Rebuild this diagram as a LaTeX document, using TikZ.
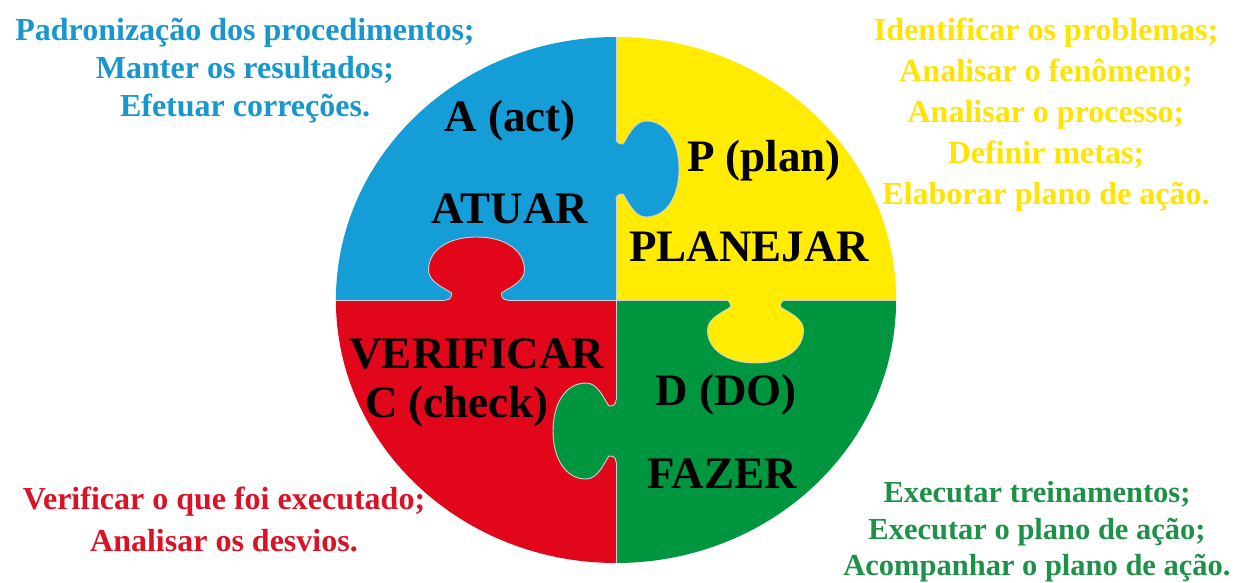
\documentclass[tikz,border=0pt]{standalone}
\usepackage{fontspec}
\setmainfont{Liberation Serif}
\usetikzlibrary{positioning}

\definecolor{actblue}{RGB}{20,157,214}
\definecolor{planyellow}{RGB}{255,236,0}
\definecolor{checkred}{RGB}{226,6,26}
\definecolor{dogreen}{RGB}{0,150,64}
\definecolor{acttext}{RGB}{24,150,206}
\definecolor{plantext}{RGB}{255,228,0}
\definecolor{checktext}{RGB}{218,18,38}
\definecolor{dotext}{RGB}{30,145,72}

\tikzset{
  piece edge/.style={draw=white!82!black, line width=0.9pt},
  step label/.style={font=\fontsize{45}{50}\selectfont\bfseries, inner sep=0pt},
  task list/.style={font=\fontsize{32}{38}\selectfont\bfseries, align=center, inner sep=0pt},
  % one puzzle tab, pointing up, base centred on the origin
  tab/.pic={
    \path[pic actions] (-31,2) -- (-31,0) .. controls (-26,0) and (-25,-3) .. (-25,-7)
      .. controls (-32,-12) and (-48,-18) .. (-48,-30)
      .. controls (-48,-50) and (-28,-63) .. (0,-63)
      .. controls (28,-63) and (48,-50) .. (48,-30)
      .. controls (48,-18) and (32,-12) .. (25,-7)
      .. controls (25,-3) and (26,0) .. (31,0) -- (31,2) -- cycle;
    \draw[piece edge] (-31,0) .. controls (-26,0) and (-25,-3) .. (-25,-7)
      .. controls (-32,-12) and (-48,-18) .. (-48,-30)
      .. controls (-48,-50) and (-28,-63) .. (0,-63)
      .. controls (28,-63) and (48,-50) .. (48,-30)
      .. controls (48,-18) and (32,-12) .. (25,-7)
      .. controls (25,-3) and (26,0) .. (31,0);
  }
}

\begin{document}
\begin{tikzpicture}[x=1pt, y=-1pt]
  \useasboundingbox[fill=white] (0,0) rectangle (1234,583);

  %Wheel
  \begin{scope}[shift={(616,300)}, xscale=1.065]
    \begin{scope}
      \clip (0,0) circle (263);
      \fill[actblue] (-270,-270) rectangle (0,0);
      \fill[planyellow] (0,-270) rectangle (270,0);
      \fill[checkred] (-270,0) rectangle (0,270);
      \fill[dogreen] (0,0) rectangle (270,270);
      \draw[piece edge] (-270,0) -- (270,0) (0,-270) -- (0,270);
    \end{scope}
    \pic[fill=checkred] at (-131,0) {tab};
    \pic[fill=actblue, rotate=-90] at (0,-131) {tab};
    \pic[fill=planyellow, rotate=180] at (131,0) {tab};
    \pic[fill=dogreen, rotate=90] at (0,131) {tab};
  \end{scope}

  %Labels
  \node[step label] (act) at (510,121) {A (act)};
  \node[step label, below=52pt of act] (atuar) {ATUAR};
  \node[step label] (plan) at (764,161) {P (plan)};
  \node[step label, below=50pt of plan, xshift=-15pt] (planejar) {PLANEJAR};
  \node[step label] (verificar) at (477,354) {VERIFICAR};
  \node[step label, below=17pt of verificar, xshift=-20pt] (check) {C (check)};
  \node[step label] (do) at (726,395) {D (DO)};
  \node[step label, below=43pt of do, xshift=-4pt] (fazer) {FAZER};

  %Lists
  \node[task list, text=acttext] (actlist) at (245,71)
    {Padronização dos procedimentos;\\ Manter os resultados;\\ Efetuar correções.};
  \node[task list, text=plantext, font=\fontsize{32}{41}\selectfont\bfseries] (planlist) at (1046,115)
    {Identificar os problemas;\\ Analisar o fenômeno;\\ Analisar o processo;\\ Definir metas;\\ Elaborar plano de ação.};
  \node[task list, text=checktext, font=\fontsize{32}{42}\selectfont\bfseries] (checklist) at (224,519)
    {Verificar o que foi executado;\\ Analisar os desvios.};
  \node[task list, text=dotext, font=\fontsize{30.5}{36.5}\selectfont\bfseries] (dolist) at (1037,532)
    {Executar treinamentos;\\ Executar o plano de ação;\\ Acompanhar o plano de ação.};
\end{tikzpicture}
\end{document}
